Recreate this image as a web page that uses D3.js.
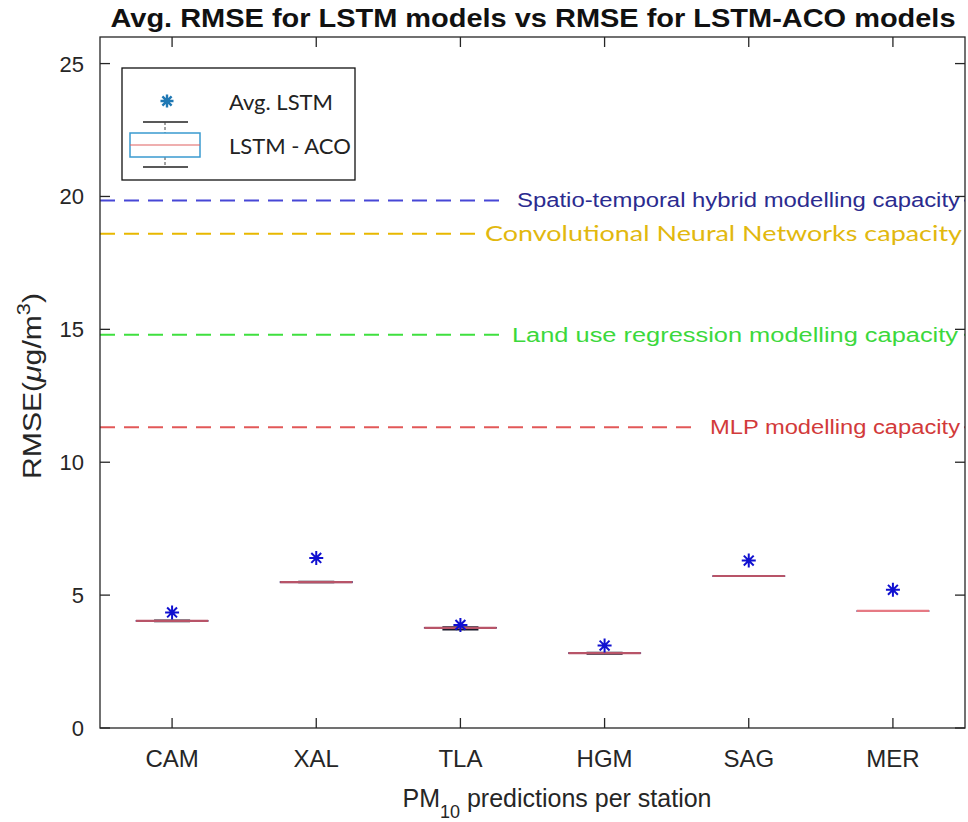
<!DOCTYPE html>
<html>
<head>
<meta charset="utf-8">
<script src="https://cdn.jsdelivr.net/npm/d3@7"></script>
<style>
  body { margin: 0; background: #fff; }
  svg { display: block; }
</style>
</head>
<body>
<svg id="chart" width="968" height="822"></svg>
<script>
// data
const stations = ["CAM", "XAL", "TLA", "HGM", "SAG", "MER"];
const avgLstm = [4.35, 6.4, 3.88, 3.1, 6.3, 5.2];
const acoMedian = [4.03, 5.49, 3.77, 2.82, 5.72, 4.41];
const acoQ1 = [4.02, 5.47, 3.76, 2.81, 5.715, 4.41];
const acoQ3 = [4.04, 5.51, 3.78, 2.83, 5.725, 4.41];
const acoLow = [4.01, 5.47, 3.7, 2.78, 5.71, 4.41];
const acoHigh = [4.05, 5.51, 3.8, 2.84, 5.73, 4.41];
const yTicks = [0, 5, 10, 15, 20, 25];

const capacityNames = ["Spatio-temporal hybrid modelling capacity", "Convolutional Neural Networks capacity",
  "Land use regression modelling capacity", "MLP modelling capacity"];
const capacityValues = [19.85, 18.6, 14.8, 11.32];

const svg = d3.select("#chart");
const margin = {left: 100, right: 3, top: 37, bottom: 94};
const W = 968, H = 822;
const axisColor = "#262626";

const x = d3.scaleLinear().domain([0.5, 6.5]).range([margin.left, W - margin.right]);
const y = d3.scaleLinear().domain([0, 26]).range([H - margin.bottom, margin.top]);

const g = svg.append("g");

// reference lines with labels on white background
const capStyle = [
  {line: "#4747d6", text: "#2b2b8f", font: "Liberation Sans, Arial", size: 20, x0: 517, x1: 960},
  {line: "#e8b800", text: "#e2b80e", font: "Lato, Open Sans", size: 22, x0: 485, x1: 962},
  {line: "#3fe03f", text: "#3cd83c", font: "Liberation Sans, Arial", size: 20, x0: 512, x1: 958},
  {line: "#e25858", text: "#d23a3a", font: "Liberation Sans, Arial", size: 20, x0: 710, x1: 960}
];
capacityValues.forEach((v, i) => {
  const s = capStyle[i];
  g.append("line")
    .attr("x1", x(0.5)).attr("x2", x(6.5))
    .attr("y1", y(v)).attr("y2", y(v))
    .attr("stroke", s.line).attr("stroke-width", 2)
    .attr("stroke-dasharray", "15 9");
  g.append("rect")
    .attr("x", s.x0 - 10).attr("y", y(v) - 13)
    .attr("width", s.x1 - s.x0 + 13).attr("height", 26)
    .attr("fill", "white");
  g.append("text")
    .attr("x", s.x0).attr("y", y(v) + 7)
    .attr("font-family", s.font).attr("font-size", s.size)
    .attr("fill", s.text)
    .attr("textLength", s.x1 - s.x0).attr("lengthAdjust", "spacingAndGlyphs")
    .text(capacityNames[i]);
});

// boxplots
const bw = x(1.25) - x(1);
stations.forEach((st, i) => {
  const cx = x(i + 1);
  // whiskers
  g.append("line").attr("x1", cx).attr("x2", cx)
    .attr("y1", y(acoQ3[i])).attr("y2", y(acoHigh[i]))
    .attr("stroke", "#222").attr("stroke-width", 1);
  g.append("line").attr("x1", cx).attr("x2", cx)
    .attr("y1", y(acoQ1[i])).attr("y2", y(acoLow[i]))
    .attr("stroke", "#222").attr("stroke-width", 1);
  [acoLow[i], acoHigh[i]].forEach(v => {
    g.append("line").attr("x1", cx - bw / 2).attr("x2", cx + bw / 2)
      .attr("y1", y(v)).attr("y2", y(v))
      .attr("stroke", "#1a1a2a").attr("stroke-width", 1.5);
  });
  g.append("rect")
    .attr("x", cx - bw).attr("width", 2 * bw)
    .attr("y", y(acoQ3[i])).attr("height", Math.max(0.5, y(acoQ1[i]) - y(acoQ3[i])))
    .attr("fill", "none").attr("stroke", "#4a3a7a").attr("stroke-width", 1);
  g.append("line").attr("x1", cx - bw).attr("x2", cx + bw)
    .attr("y1", y(acoMedian[i])).attr("y2", y(acoMedian[i]))
    .attr("stroke", i === 5 ? "#e67a84" : "#b85468").attr("stroke-width", 2.2);
});

// asterisk marker
function star(cx, cy, r) {
  const d = r * Math.SQRT1_2;
  return `M${cx - r},${cy}L${cx + r},${cy}M${cx},${cy - r}L${cx},${cy + r}` +
    `M${cx - d},${cy - d}L${cx + d},${cy + d}M${cx - d},${cy + d}L${cx + d},${cy - d}`;
}
g.selectAll(".avg").data(avgLstm).join("path")
  .attr("class", "avg")
  .attr("d", (d, i) => star(x(i + 1), y(d), 7))
  .attr("stroke", "#1010d0").attr("stroke-width", 2).attr("fill", "none");

// axes box
const ax = svg.append("g").attr("stroke", axisColor).attr("stroke-width", 1.3);
ax.append("rect").attr("x", x(0.5)).attr("y", y(26))
  .attr("width", x(6.5) - x(0.5)).attr("height", y(0) - y(26)).attr("fill", "none");
const tl = 10;
stations.forEach((s, i) => {
  ax.append("line").attr("x1", x(i + 1)).attr("x2", x(i + 1)).attr("y1", y(0)).attr("y2", y(0) - tl);
  ax.append("line").attr("x1", x(i + 1)).attr("x2", x(i + 1)).attr("y1", y(26)).attr("y2", y(26) + tl);
});
yTicks.forEach(t => {
  ax.append("line").attr("x1", x(0.5)).attr("x2", x(0.5) + tl).attr("y1", y(t)).attr("y2", y(t));
  ax.append("line").attr("x1", x(6.5)).attr("x2", x(6.5) - tl).attr("y1", y(t)).attr("y2", y(t));
});

const lab = svg.append("g").attr("font-family", "Liberation Sans, Arial").attr("fill", axisColor);
lab.selectAll(".xt").data(stations).join("text")
  .attr("x", (d, i) => x(i + 1)).attr("y", y(0) + 39)
  .attr("text-anchor", "middle").attr("font-size", 24).text(d => d);
lab.selectAll(".yt").data(yTicks).join("text")
  .attr("x", x(0.5) - 16).attr("y", d => y(d) + 8)
  .attr("text-anchor", "end").attr("font-size", 22).text(d => d);

// axis titles
const xl = lab.append("text").attr("x", 557).attr("y", 807)
  .attr("text-anchor", "middle").attr("font-size", 25);
xl.append("tspan").text("PM");
xl.append("tspan").attr("font-size", 18).attr("dy", 11).text("10");
xl.append("tspan").attr("dy", -11).text(" predictions per station");

const yl = lab.append("text").attr("transform", "translate(41,386) rotate(-90)")
  .attr("text-anchor", "middle").attr("font-size", 25)
  .attr("textLength", 186).attr("lengthAdjust", "spacingAndGlyphs");
yl.append("tspan").text("RMSE(");
yl.append("tspan").attr("font-style", "italic").text("μ");
yl.append("tspan").text("g/m");
yl.append("tspan").attr("font-size", 18).attr("dy", -11).text("3");
yl.append("tspan").attr("dy", 11).text(")");

svg.append("text").attr("x", 533).attr("y", 27)
  .attr("text-anchor", "middle").attr("font-family", "Liberation Sans, Arial")
  .attr("font-weight", "bold").attr("font-size", 25).attr("fill", "#111")
  .attr("textLength", 845).attr("lengthAdjust", "spacingAndGlyphs")
  .text("Avg. RMSE for LSTM models vs RMSE for LSTM-ACO models");

// legend
const lg = svg.append("g");
lg.append("rect").attr("x", 122).attr("y", 68).attr("width", 233).attr("height", 112)
  .attr("fill", "white").attr("stroke", "#111").attr("stroke-width", 1.3);
lg.append("path").attr("d", star(167, 101, 6.5))
  .attr("stroke", "#1f78b4").attr("stroke-width", 2.4).attr("fill", "none");
lg.append("text").attr("x", 229).attr("y", 110).attr("font-family", "Lato, Open Sans")
  .attr("font-size", 22).attr("fill", "#222").text("Avg. LSTM");
lg.append("line").attr("x1", 143).attr("x2", 188).attr("y1", 122).attr("y2", 122).attr("stroke", "#222").attr("stroke-width", 1.5);
lg.append("line").attr("x1", 143).attr("x2", 188).attr("y1", 167).attr("y2", 167).attr("stroke", "#222").attr("stroke-width", 1.5);
lg.append("line").attr("x1", 165).attr("x2", 165).attr("y1", 122).attr("y2", 133).attr("stroke", "#444").attr("stroke-dasharray", "3 2");
lg.append("line").attr("x1", 165).attr("x2", 165).attr("y1", 157).attr("y2", 167).attr("stroke", "#444").attr("stroke-dasharray", "3 2");
lg.append("rect").attr("x", 130).attr("y", 133).attr("width", 70).attr("height", 24)
  .attr("fill", "white").attr("stroke", "#3a9ad0").attr("stroke-width", 1.5);
lg.append("line").attr("x1", 130).attr("x2", 200).attr("y1", 145).attr("y2", 145).attr("stroke", "#e06060").attr("stroke-width", 1.2);
lg.append("text").attr("x", 229).attr("y", 154).attr("font-family", "Lato, Open Sans")
  .attr("font-size", 22).attr("fill", "#222").text("LSTM - ACO");
</script>
</body>
</html>
